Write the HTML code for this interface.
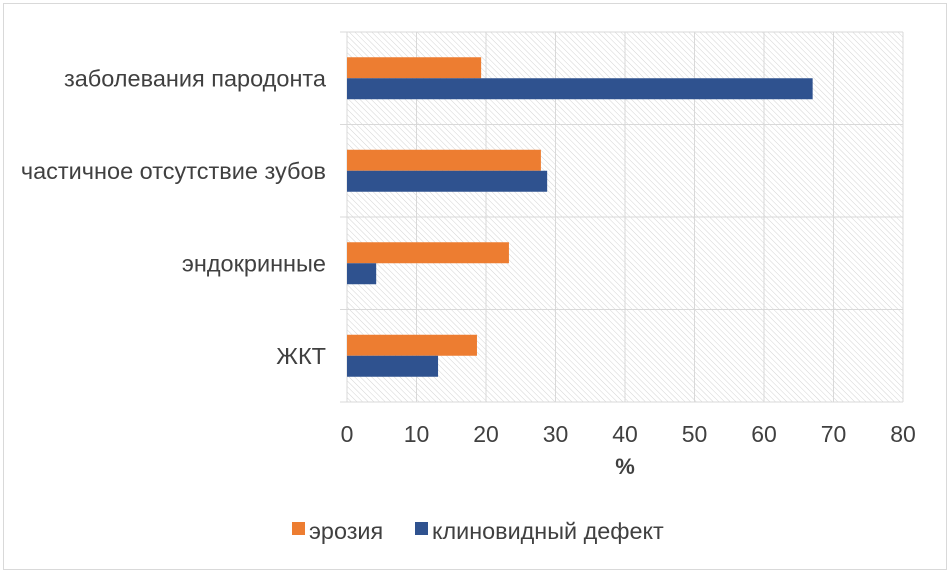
<!DOCTYPE html>
<html><head><meta charset="utf-8"><style>
body{margin:0;background:#fff;}
svg text{font-family:"Liberation Sans",sans-serif;fill:#404040;}
</style></head><body>
<svg width="951" height="575" xmlns="http://www.w3.org/2000/svg">
<defs><pattern id="h" width="4" height="4" patternUnits="userSpaceOnUse" patternTransform="rotate(-45)"><line x1="0" y1="0" x2="0" y2="4" stroke="#d4d4d4" stroke-width="1"/></pattern></defs>
<rect x="3.5" y="3.5" width="943" height="566" fill="#fff" stroke="#d9d9d9"/>
<rect x="347" y="32" width="556" height="370" fill="url(#h)"/>
<g id="grid"></g><g id="bars"></g><g id="labels"></g>
<text x="625" y="474" font-size="22" font-weight="bold" text-anchor="middle">%</text>
<rect x="292" y="522" width="13" height="13" fill="#ed7d31"/>
<text x="309" y="539" font-size="23.4">эрозия</text>
<rect x="415" y="522" width="13" height="13" fill="#2f528f"/>
<text x="432" y="539" font-size="23.4">клиновидный дефект</text>
</svg>
<script>
const categories=["заболевания пародонта","частичное отсутствие зубов","эндокринные","ЖКТ"];
const erosion=[19.3,27.9,23.3,18.7];
const wedge=[67.0,28.8,4.2,13.1];
const ticks=[0,10,20,30,40,50,60,70,80];
const NS="http://www.w3.org/2000/svg";
const X0=347,X1=903,Y0=32,Y1=402,MAX=80;
const x=v=>X0+(v/MAX)*(X1-X0);
const band=(Y1-Y0)/categories.length;
function mk(t,a,p){const e=document.createElementNS(NS,t);for(const k in a)e.setAttribute(k,a[k]);p.appendChild(e);return e;}
const g=document.getElementById('grid'),b=document.getElementById('bars'),l=document.getElementById('labels');
ticks.forEach(t=>{
 const ln=mk('line',{x1:x(t),x2:x(t),y1:Y0,y2:Y1,stroke:'#d9d9d9'},g);
 
 
 const tx=mk('text',{x:x(t),y:442,'font-size':23,'text-anchor':'middle'},l);tx.textContent=t;
 
 
});
for(let i=0;i<=categories.length;i++){
 const y=Y0+i*band;
 const ln=mk('line',{x1:340,x2:X1,y1:y,y2:y,stroke:'#d9d9d9'},g);
 
 
}
categories.forEach((c,i)=>{
 const cy=Y0+i*band+band/2;
 const r1=mk('rect',{x:X0,y:cy-21,width:x(erosion[i])-X0,height:21,fill:'#ed7d31'},b);
 
 
 const r2=mk('rect',{x:X0,y:cy,width:x(wedge[i])-X0,height:21,fill:'#2f528f'},b);
 
 
 const t=mk('text',{x:326,y:cy+8,'font-size':23.5,'text-anchor':'end'},l);t.textContent=c;
 
 
});
</script>
</body></html>
